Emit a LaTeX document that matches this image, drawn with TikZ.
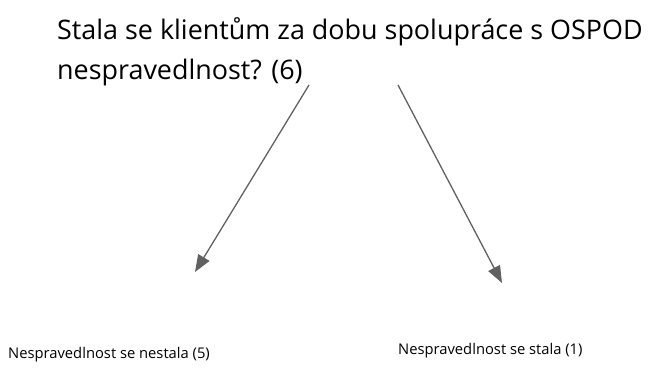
\documentclass[tikz,border=0pt]{standalone}
\usepackage{fontspec}
\setmainfont{Open Sans}
\usetikzlibrary{arrows.meta}
\tikzset{
every picture/.style={x=1bp,y=-1bp}
}
\tikzset{
  question/.style={anchor=base west, inner sep=0pt, align=left,
    font=\fontsize{27}{40}\selectfont},
  answer/.style={anchor=base west, inner sep=0pt,
    font=\fontsize{14.8}{18}\selectfont},
  link/.style={draw=black!62, line width=1.3bp,
    -{Triangle[length=17bp,width=13bp]}}
}

\begin{document}
\begin{tikzpicture}
    \useasboundingbox (0,0) rectangle (652,367);
    % question on top
    \node[question] (q) at (57,79) {Stala se klientům za dobu spolupráce s OSPOD\\nespravedlnost? (6)};
    % the two outcomes
    \node[answer] (no) at (8,358) {Nespravedlnost se nestala (5)};
    \node[answer] (yes) at (398,354) {Nespravedlnost se stala (1)};
    \coordinate (noFrom) at (309,85);
    \coordinate (noTo) at (195,272);
    \coordinate (yesFrom) at (398,85);
    \coordinate (yesTo) at (502,283);
    \draw[link] (noFrom) -- (noTo);
    \draw[link] (yesFrom) -- (yesTo);
  \end{tikzpicture}
\end{document}
